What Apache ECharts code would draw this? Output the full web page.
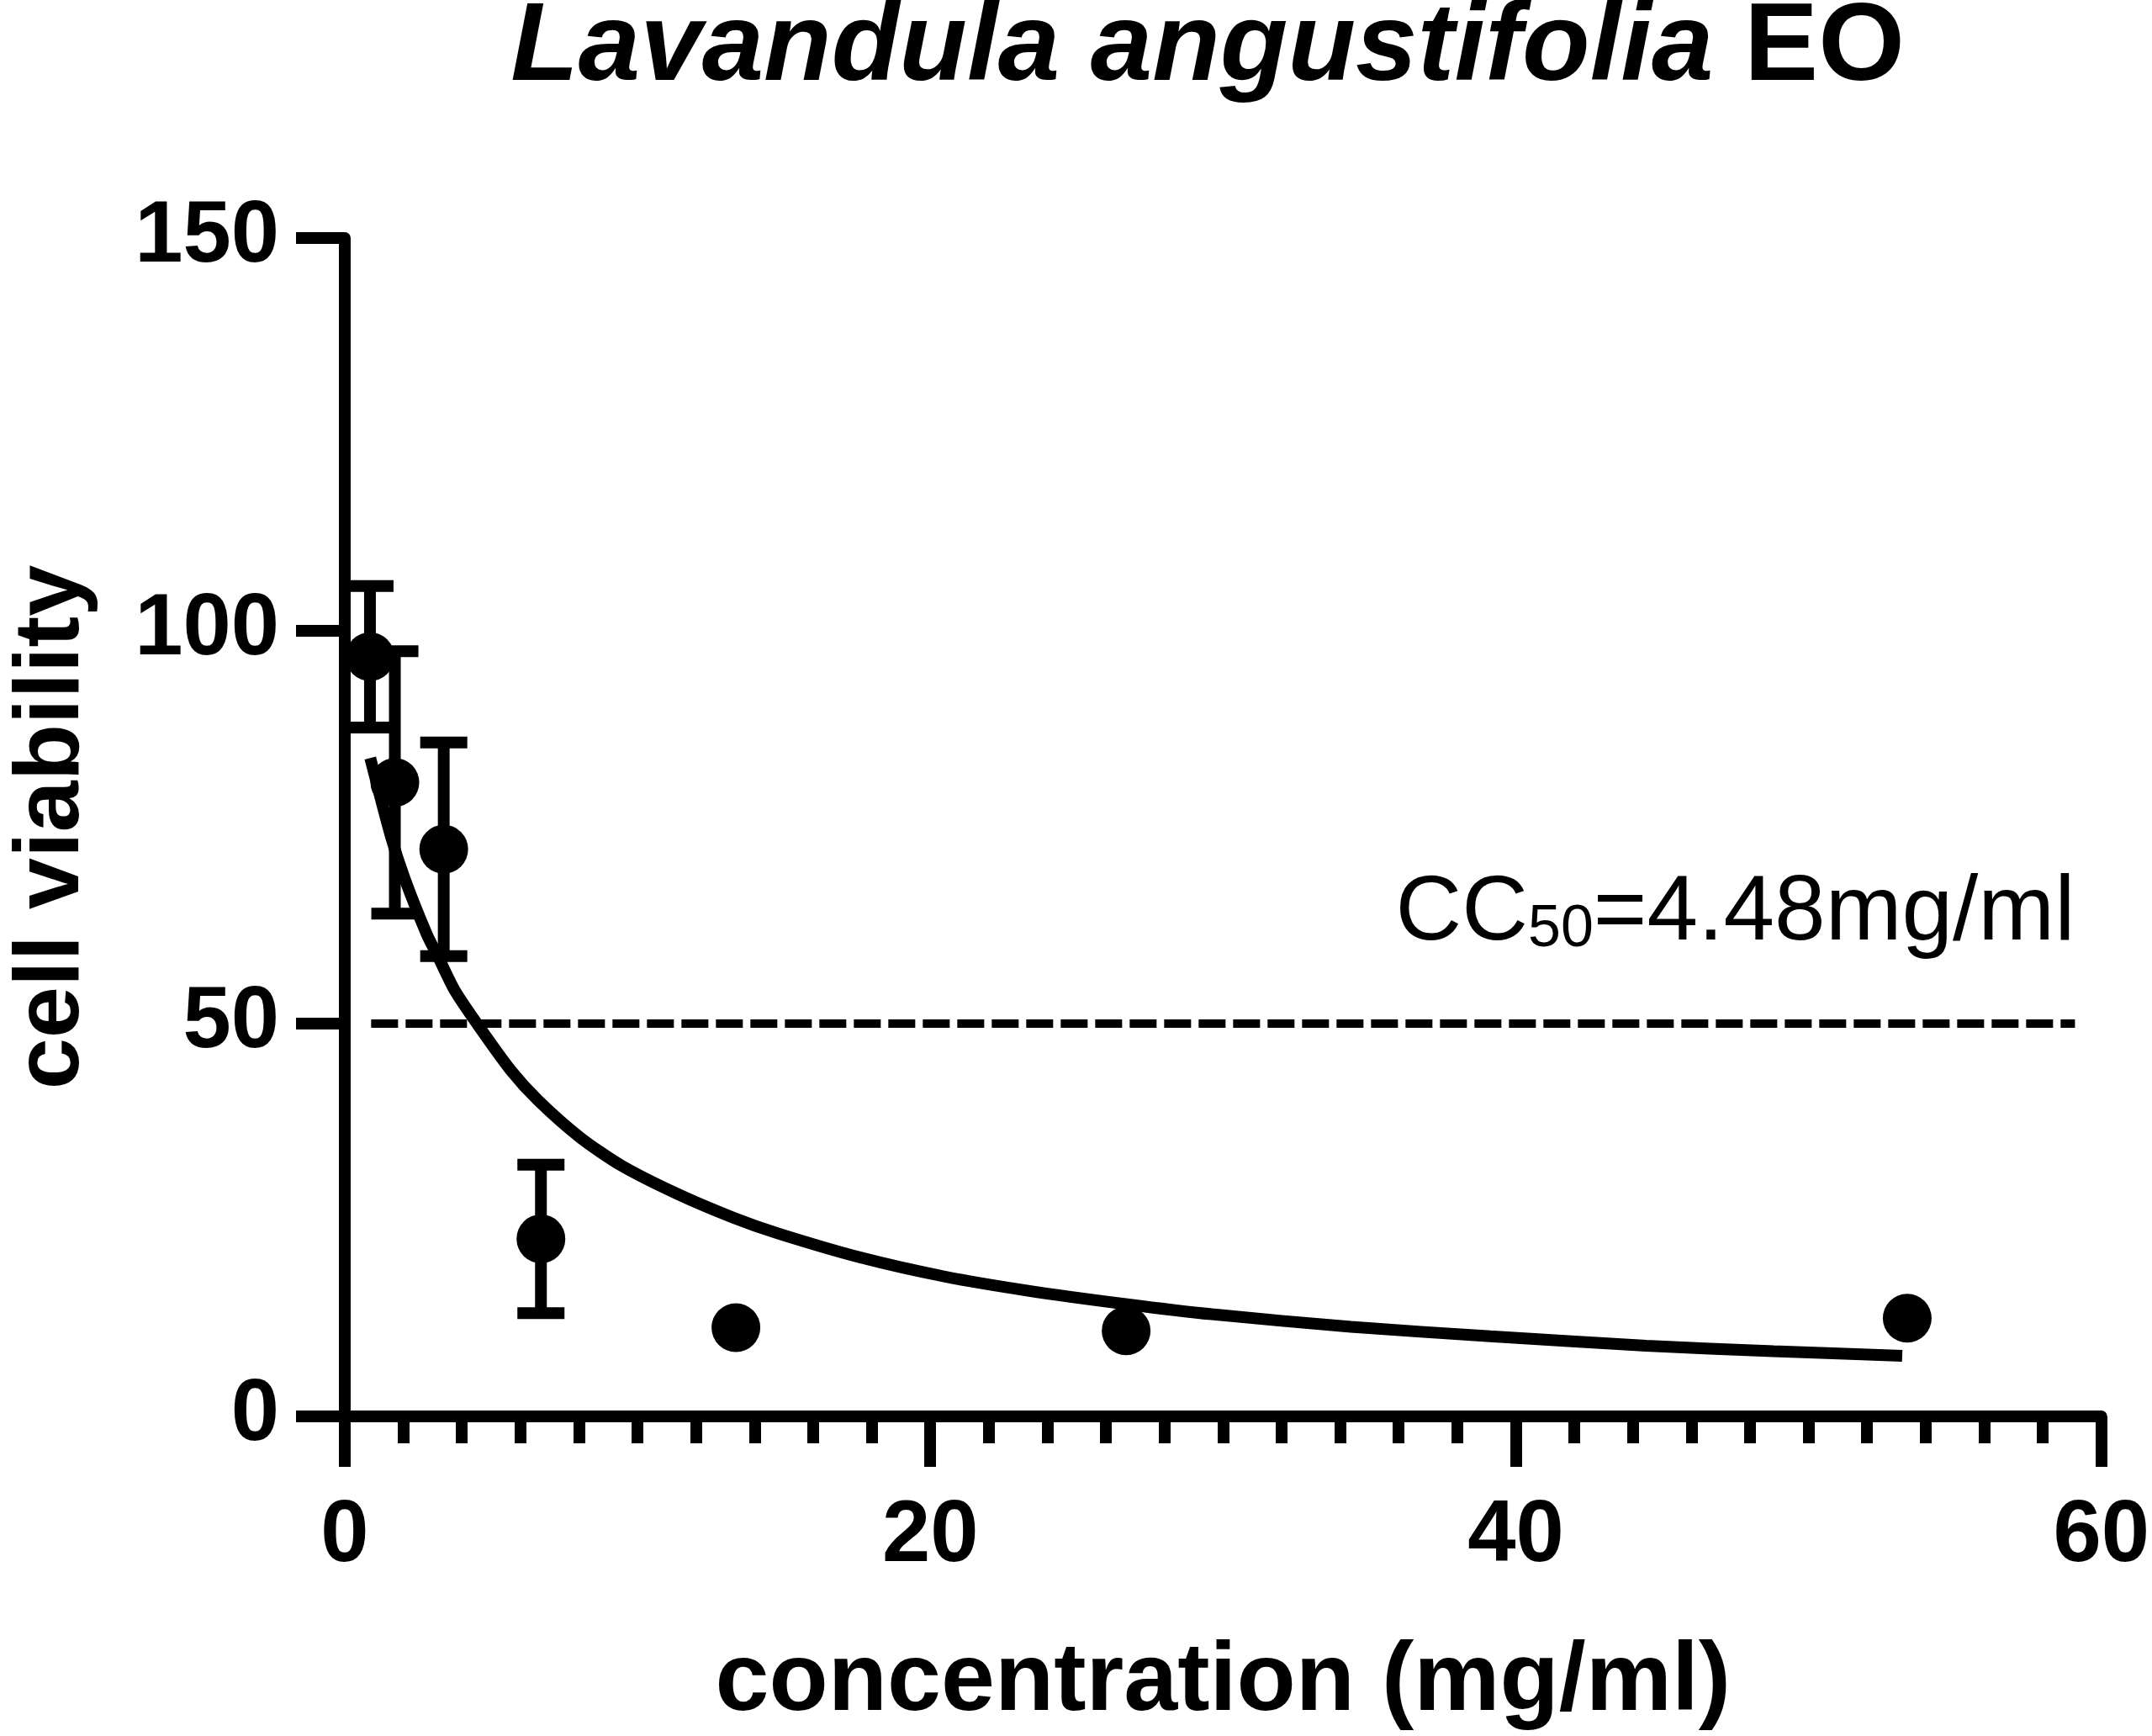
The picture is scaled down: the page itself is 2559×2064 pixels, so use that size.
<!DOCTYPE html>
<html>
<head>
<meta charset="utf-8">
<title>Lavandula angustifolia EO</title>
<script src="https://cdn.jsdelivr.net/npm/echarts@6/dist/echarts.min.js"></script>
<style>
  html, body { margin: 0; padding: 0; background: #fff; }
  #chart { width: 2559px; height: 2064px; }
</style>
</head>
<body>
<div id="chart"></div>
<script>
// measured points (mean +/- SD)
var concX = [0.86, 1.71, 3.38, 6.70, 13.36, 26.69, 53.37];
var viability = [96.7, 80.7, 72.2, 22.6, 11.3, 10.9, 12.5];
var viabilitySd = [9.0, 16.7, 13.6, 9.45, 0, 0, 0];

// fitted curve
var fitX = [0.87, 1.57, 2.05, 2.81, 3.19, 3.76, 4.57, 5.66, 6.61, 8.04, 9.46, 11.37,
            13.27, 14.79, 17.64, 20.49, 23.34, 26.67, 29.62, 34.37, 39.13, 44.45, 48.8, 53.2];
var fitY = [83.8, 73.9, 68.4, 61.3, 58.5, 54.2, 49.7, 44.1, 40.2, 35.5, 31.9, 28.3,
            25.3, 23.3, 20.2, 17.8, 16.0, 14.3, 13.0, 11.4, 10.2, 9.0, 8.3, 7.7];

// CC50 reference line
var cc50Level = 50;
var cc50Range = [0.9, 59.1];
var cc50Text = ['CC', '50', '=4.48mg/ml'];

var xTicks = [0, 20, 40, 60];
var yTicks = [0, 50, 100, 150];

var font = 'Liberation Sans';
var lw = 14;

var pointData = concX.map(function (x, i) { return [x, viability[i]]; });
var barData = concX.map(function (x, i) { return [x, viability[i], viabilitySd[i]]; });
var fitData = fitX.map(function (x, i) { return [x, fitY[i]]; });

var chart = echarts.init(document.getElementById('chart'));

var option = {
    animation: false,
    backgroundColor: '#fff',
    graphic: [{
        type: 'text',
        x: 1436,
        y: -7,
        style: {
            text: '{i|Lavandula angustifolia\u00a0}{n|EO}',
            align: 'center',
            verticalAlign: 'top',
            rich: {
                i: { fontFamily: font, fontSize: 132, fontWeight: 'bold', fontStyle: 'italic', fill: '#000', lineHeight: 132 },
                n: { fontFamily: font, fontSize: 132, fontWeight: 'bold', fill: '#000', lineHeight: 132 }
            }
        }
    }],
    grid: { left: 401.5, right: 54, top: 283, bottom: 379, containLabel: false },
    xAxis: {
        type: 'value',
        min: xTicks[0],
        max: xTicks[xTicks.length - 1],
        interval: 20,
        name: 'concentration (mg/ml)',
        nameLocation: 'middle',
        nameGap: 260,
        nameTextStyle: { fontFamily: font, fontSize: 115, fontWeight: 'bold', color: '#000' },
        axisLine: { show: true, onZero: false, lineStyle: { color: '#000', width: lw } },
        axisTick: { show: true, length: 60, lineStyle: { color: '#000', width: lw } },
        minorTick: { show: true, splitNumber: 10, length: 32, lineStyle: { color: '#000', width: lw } },
        axisLabel: { fontFamily: font, fontSize: 103, fontWeight: 'bold', color: '#000', margin: 92 },
        splitLine: { show: false },
        minorSplitLine: { show: false }
    },
    yAxis: {
        type: 'value',
        min: yTicks[0],
        max: yTicks[yTicks.length - 1],
        interval: 50,
        name: 'cell viability',
        nameLocation: 'middle',
        nameGap: 292,
        nameTextStyle: { fontFamily: font, fontSize: 110, fontWeight: 'bold', color: '#000' },
        axisLine: { show: true, onZero: false, lineStyle: { color: '#000', width: lw } },
        axisTick: { show: true, length: 58, lineStyle: { color: '#000', width: lw } },
        axisLabel: { fontFamily: font, fontSize: 103, fontWeight: 'bold', color: '#000', margin: 78 },
        splitLine: { show: false }
    },
    series: [
        {
            name: 'fit',
            type: 'line',
            data: fitData,
            smooth: 0.25,
            showSymbol: false,
            symbol: 'none',
            lineStyle: { color: '#000', width: lw, cap: 'butt' },
            markLine: {
                silent: true,
                symbol: 'none',
                lineStyle: { color: '#000', width: 10, type: [32, 9] },
                label: {
                    show: true,
                    position: 'insideEndTop',
                    distance: [0, 76],
                    formatter: '{a|' + cc50Text[0] + '}{b|' + cc50Text[1] + '}{a|' + cc50Text[2] + '}',
                    rich: {
                        a: { fontFamily: font, fontSize: 109, color: '#000', lineHeight: 109, verticalAlign: 'bottom' },
                        b: { fontFamily: font, fontSize: 70, color: '#000', lineHeight: 70, verticalAlign: 'bottom' }
                    }
                },
                data: [[{ coord: [cc50Range[0], cc50Level] }, { coord: [cc50Range[1], cc50Level] }]]
            },
            z: 3
        },
        {
            name: 'sd',
            type: 'custom',
            data: barData,
            renderItem: function (params, api) {
                var sd = api.value(2);
                if (!sd) return null;
                var x = api.value(0), y = api.value(1);
                var top = api.coord([x, y + sd]);
                var bot = api.coord([x, y - sd]);
                var half = 28;
                var st = { stroke: '#000', lineWidth: lw };
                return {
                    type: 'group',
                    children: [
                        { type: 'line', shape: { x1: top[0], y1: top[1], x2: bot[0], y2: bot[1] }, style: st },
                        { type: 'line', shape: { x1: top[0] - half, y1: top[1], x2: top[0] + half, y2: top[1] }, style: st },
                        { type: 'line', shape: { x1: bot[0] - half, y1: bot[1], x2: bot[0] + half, y2: bot[1] }, style: st }
                    ]
                };
            },
            z: 4
        },
        {
            name: 'viability',
            type: 'scatter',
            data: pointData,
            symbol: 'circle',
            symbolSize: 58,
            itemStyle: { color: '#000', opacity: 1 },
            z: 5
        }
    ]
};

chart.setOption(option);
</script>
</body>
</html>
